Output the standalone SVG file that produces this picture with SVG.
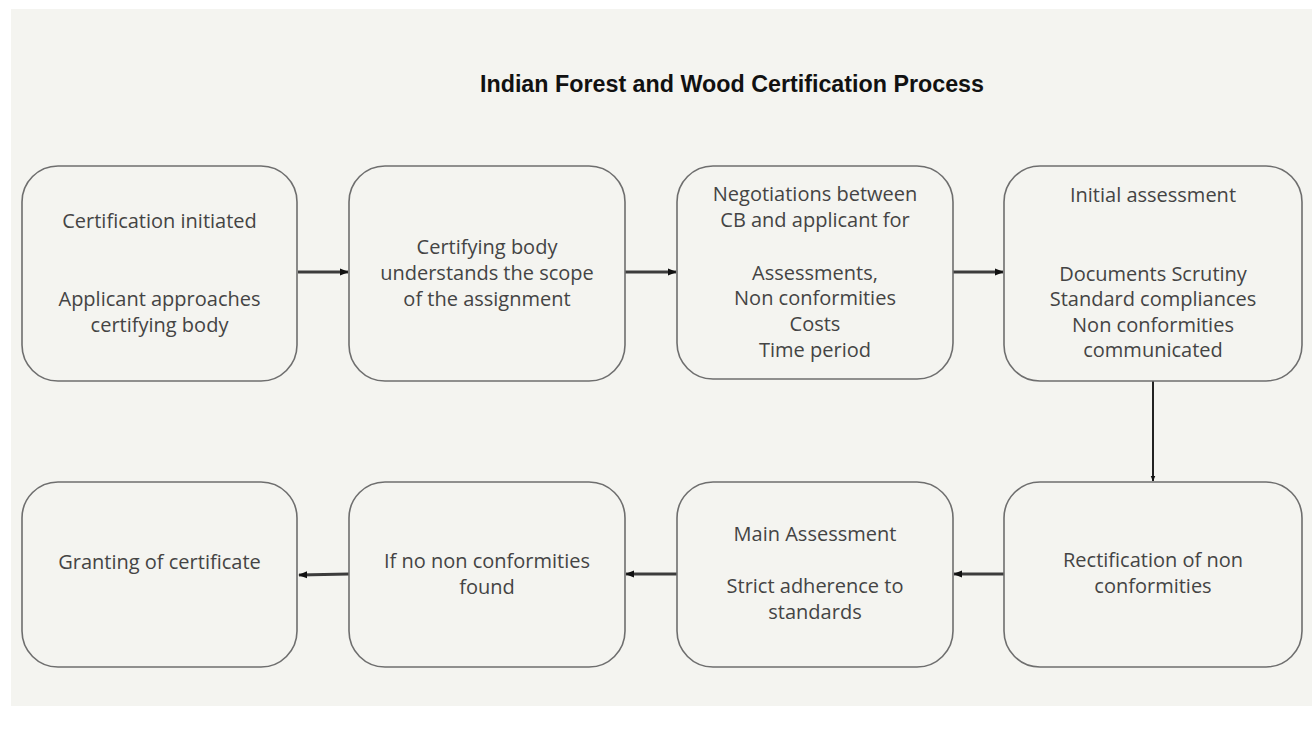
<svg xmlns="http://www.w3.org/2000/svg" width="1312" height="733" viewBox="0 0 1312 733">
<defs>
<marker id="ah" viewBox="0 0 10 10" refX="9" refY="5" markerWidth="3" markerHeight="3" orient="auto" markerUnits="strokeWidth">
<path d="M0,1 L10,5 L0,9 Z" fill="#111"/>
</marker>
<style>
.box{fill:#f4f4f0;stroke:#6e6e6e;stroke-width:1.6}
.t{font-family:"Open Sans","Noto Sans",sans-serif;font-size:20px;fill:#444;text-anchor:middle}
.title{font-family:"Liberation Sans",Arial,sans-serif;font-weight:bold;font-size:23px;fill:#111}
.c{stroke:#3c3c3c;stroke-width:3;fill:none}
.v{stroke:#222;stroke-width:2;fill:none}
</style>
</defs>
<rect x="0" y="0" width="1312" height="733" fill="#ffffff"/>
<rect x="11" y="9" width="1301" height="697" fill="#f4f4f0"/>
<text class="title" x="480" y="92" textLength="504" lengthAdjust="spacingAndGlyphs">Indian Forest and Wood Certification Process</text>

<g id="connectors">
<line class="c" x1="298" y1="272" x2="348" y2="272" marker-end="url(#ah)"/>
<line class="c" x1="625" y1="272" x2="676" y2="272" marker-end="url(#ah)"/>
<line class="c" x1="953" y1="272" x2="1003" y2="272" marker-end="url(#ah)"/>
<line class="v" x1="1153" y1="381" x2="1153" y2="481" marker-end="url(#ah)"/>
<line class="c" x1="1004" y1="574" x2="954" y2="574" marker-end="url(#ah)"/>
<line class="c" x1="677" y1="574" x2="626" y2="574" marker-end="url(#ah)"/>
<line class="c" x1="349" y1="574" x2="299" y2="575" marker-end="url(#ah)"/>
</g>

<g id="n1">
<rect class="box" x="22" y="166" width="275" height="215" rx="36"/>
<text class="t" x="159.5" y="228">Certification initiated</text>
<text class="t" x="159.5" y="306">Applicant approaches</text>
<text class="t" x="159.5" y="332">certifying body</text>
</g>
<g id="n2">
<rect class="box" x="349" y="166" width="276" height="215" rx="36"/>
<text class="t" x="487" y="254">Certifying body</text>
<text class="t" x="487" y="280">understands the scope</text>
<text class="t" x="487" y="306">of the assignment</text>
</g>
<g id="n3">
<rect class="box" x="677" y="166" width="276" height="213" rx="36"/>
<text class="t" x="815" y="201">Negotiations between</text>
<text class="t" x="815" y="227">CB and applicant for</text>
<text class="t" x="815" y="280">Assessments,</text>
<text class="t" x="815" y="305">Non conformities</text>
<text class="t" x="815" y="331">Costs</text>
<text class="t" x="815" y="357">Time period</text>
</g>
<g id="n4">
<rect class="box" x="1004" y="166" width="298" height="215" rx="36"/>
<text class="t" x="1153" y="202">Initial assessment</text>
<text class="t" x="1153" y="281">Documents Scrutiny</text>
<text class="t" x="1153" y="306">Standard compliances</text>
<text class="t" x="1153" y="332">Non conformities</text>
<text class="t" x="1153" y="357">communicated</text>
</g>
<g id="n5">
<rect class="box" x="1004" y="482" width="298" height="185" rx="36"/>
<text class="t" x="1153" y="567">Rectification of non</text>
<text class="t" x="1153" y="593">conformities</text>
</g>
<g id="n6">
<rect class="box" x="677" y="482" width="276" height="185" rx="36"/>
<text class="t" x="815" y="541">Main Assessment</text>
<text class="t" x="815" y="593">Strict adherence to</text>
<text class="t" x="815" y="619">standards</text>
</g>
<g id="n7">
<rect class="box" x="349" y="482" width="276" height="185" rx="36"/>
<text class="t" x="487" y="568">If no non conformities</text>
<text class="t" x="487" y="594">found</text>
</g>
<g id="n8">
<rect class="box" x="22" y="482" width="275" height="185" rx="36"/>
<text class="t" x="159.5" y="569">Granting of certificate</text>
</g>
</svg>
